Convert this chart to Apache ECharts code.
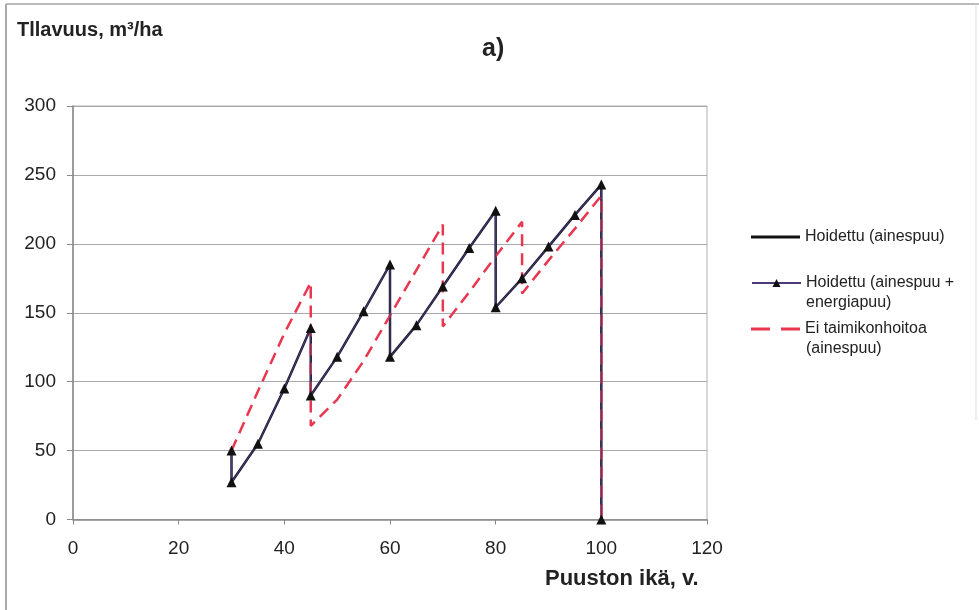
<!DOCTYPE html>
<html>
<head>
<meta charset="utf-8">
<script src="https://cdn.jsdelivr.net/npm/echarts@6/dist/echarts.min.js"></script>
<style>
  html, body { margin: 0; padding: 0; background: #fff; }
  #chart { width: 979px; height: 610px; }
</style>
</head>
<body>
<div id="chart"></div>
<script>
// ages (x) and volumes (y)
const ageHoidettu = [30, 30, 35, 40, 45, 45, 50, 55, 60, 60, 65, 70, 75, 80, 80, 85, 90, 95, 100, 100]
const hoidettuAines = [50, 27, 55, 95, 139, 90, 118, 151, 185, 118, 141, 169, 197, 224, 154, 175, 198, 221, 243, 0]
const hoidettuEnergia = [50, 27, 55, 95, 139, 90, 118, 151, 185, 118, 141, 169, 197, 224, 154, 175, 198, 221, 243, 0]
const ageEi = [30, 35, 40, 45, 45, 50, 55, 60, 65, 70, 70, 75, 80, 85, 85, 90, 95, 100, 100]
const eiTaimikon = [50, 93, 135, 172, 68, 87, 115, 148, 181, 214, 140, 165, 191, 216, 164, 188, 211, 235, 0]

const seriesNames = ['Hoidettu (ainespuu)', 'Hoidettu (ainespuu +', 'Ei taimikonhoitoa']
const secondLines = ['', 'energiapuu)', '(ainespuu)']

const pairs = (xs, ys) => xs.map((x, i) => [x, ys[i]])

const font = '"Liberation Sans", Arial, sans-serif'
const txt = '#222'

let chart = echarts.init(document.getElementById('chart'))

const legendBase = {
  orient: 'vertical',
  left: 751,
  padding: 0,
  itemWidth: 49,
  textStyle: { fontFamily: font, fontSize: 16, color: txt },
  selectedMode: false
}

let option = {
  animation: false,
  backgroundColor: '#fff',
  title: {
    text: 'a)',
    left: 477,
    top: 32,
    textStyle: { fontFamily: font, fontSize: 25, fontWeight: 'bold', color: txt }
  },
  legend: [
    Object.assign({}, legendBase, { top: 229, itemHeight: 3, icon: 'rect', data: [seriesNames[0]] }),
    Object.assign({}, legendBase, { top: 275, itemHeight: 10, data: [seriesNames[1]] }),
    Object.assign({}, legendBase, {
      top: 321, itemHeight: 3,
      icon: 'path://M0,0h19v3h-19z M30,0h19v3h-19z',
      data: [seriesNames[2]]
    })
  ],
  grid: {
    left: 73, right: 272, top: 106, bottom: 90.5,
    show: true, borderColor: '#b0b0b8', borderWidth: 1
  },
  xAxis: {
    type: 'value',
    min: 0, max: 120, interval: 20,
    axisLine: { show: true, lineStyle: { color: '#888', width: 1.5 } },
    axisTick: { show: true, length: 5, lineStyle: { color: '#888' } },
    axisLabel: { margin: 20, fontFamily: font, fontSize: 19, color: txt },
    splitLine: { show: false }
  },
  yAxis: {
    type: 'value',
    min: 0, max: 300, interval: 50,
    axisLine: { show: true, lineStyle: { color: '#888', width: 1.5 } },
    axisTick: { show: true, length: 6, lineStyle: { color: '#888' } },
    axisLabel: { margin: 17, fontFamily: font, fontSize: 19, color: txt },
    splitLine: { show: true, lineStyle: { color: '#a8a8b0', width: 1 } }
  },
  graphic: [
    { type: 'line', shape: { x1: 6, y1: 4, x2: 979, y2: 4 }, style: { stroke: '#bbb', lineWidth: 2 } },
    { type: 'line', shape: { x1: 6, y1: 4, x2: 6, y2: 610 }, style: { stroke: '#aaa', lineWidth: 2 } },
    { type: 'line', shape: { x1: 976, y1: 4, x2: 976, y2: 420 }, style: { stroke: '#ddd', lineWidth: 1 } },
    { type: 'text', left: 17, top: 20, style: { text: 'Tllavuus, m³/ha', font: 'bold 20px ' + font, fill: txt } },
    { type: 'text', left: 545, top: 568, style: { text: 'Puuston ikä, v.', font: 'bold 22px ' + font, fill: txt } },
    { type: 'text', left: 806, top: 295, style: { text: secondLines[1], font: '16px ' + font, fill: txt } },
    { type: 'text', left: 806, top: 341, style: { text: secondLines[2], font: '16px ' + font, fill: txt } }
  ],
  series: [
    {
      name: seriesNames[0],
      type: 'line',
      data: pairs(ageHoidettu, hoidettuAines),
      symbol: 'none',
      z: 2,
      lineStyle: { color: '#1f1c30', width: 2.5 },
      itemStyle: { color: '#111' }
    },
    {
      name: seriesNames[2],
      type: 'line',
      data: pairs(ageEi, eiTaimikon),
      symbol: 'none',
      z: 3,
      lineStyle: { color: '#e8374e', width: 2.5, type: [12, 7] },
      itemStyle: { color: '#e8374e' }
    },
    {
      name: seriesNames[1],
      type: 'line',
      data: pairs(ageHoidettu, hoidettuEnergia),
      symbol: 'triangle',
      symbolSize: 10,
      z: 4,
      lineStyle: { color: '#4a3a78', width: 1 },
      itemStyle: { color: '#111' }
    }
  ]
}

chart.setOption(option)
</script>
</body>
</html>
